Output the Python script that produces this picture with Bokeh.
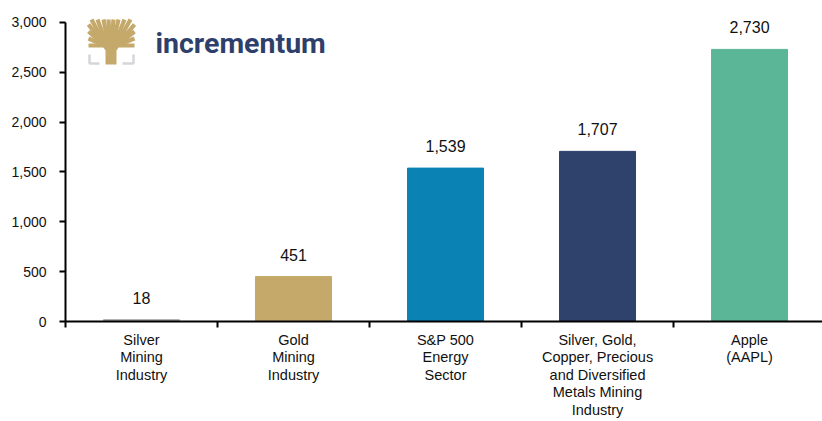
from bokeh.plotting import figure
from bokeh.layouts import column
from bokeh.models import (Range1d, FixedTicker, NumeralTickFormatter, ColumnDataSource, Label)
from bokeh.core.properties import value
from bokeh.embed import file_html
from bokeh.resources import INLINE

categories = ["Silver\nMining\nIndustry", "Gold\nMining\nIndustry", "S&P 500\nEnergy\nSector",
              "Silver, Gold,\nCopper, Precious\nand Diversified\nMetals Mining\nIndustry", "Apple\n(AAPL)"]
values = [18, 451, 1539, 1707, 2730]
colors = ["#a6a6a6", "#c4a96b", "#0b82b4", "#2f426b", "#5bb697"]
y_ticks = [0, 500, 1000, 1500, 2000, 2500, 3000]

FONT = "Liberation Sans"

xs = [i + 0.5 for i in range(len(categories))]
bounds = list(range(len(categories) + 1))

p = figure(width=822, height=330, output_backend="svg", toolbar_location=None,
           x_range=Range1d(0, 4.98), y_range=Range1d(0, 3050),
           min_border_left=65, min_border_right=0, min_border_top=17, min_border_bottom=9)
p.outline_line_color = None
p.grid.visible = False
p.background_fill_color = "white"
p.border_fill_color = "white"

src = ColumnDataSource(dict(x=xs, top=values, color=colors, lab=[f"{v:,}" for v in values]))
p.vbar(x="x", top="top", width=0.5, color="color", source=src)
p.text(x="x", y="top", text="lab", source=src, text_align="center", text_baseline="middle",
       y_offset=-22, text_font=value(FONT), text_font_size="16px", text_color="#111111")

# y axis
ya = p.yaxis[0]
ya.ticker = FixedTicker(ticks=y_ticks)
ya.bounds = (0, 3000)
ya.formatter = NumeralTickFormatter(format="0,0")
ya.axis_line_color = "black"
ya.axis_line_width = 2
ya.major_tick_line_color = "black"
ya.major_tick_line_width = 2
ya.major_tick_in = 0
ya.major_tick_out = 6
ya.minor_tick_line_color = None
ya.major_label_standoff = 13
ya.major_label_text_font = FONT
ya.major_label_text_font_size = "14px"
ya.major_label_text_color = "#111111"

# x axis: ticks at category boundaries, names drawn in the strip below
xa = p.xaxis[0]
xa.ticker = FixedTicker(ticks=xs, minor_ticks=bounds)
xa.major_label_overrides = {x: "" for x in xs}
xa.axis_line_color = "black"
xa.axis_line_width = 2
xa.major_tick_line_color = None
xa.major_tick_in = 0
xa.major_tick_out = 0
xa.minor_tick_line_color = "black"
xa.minor_tick_line_width = 2
xa.minor_tick_in = 0
xa.minor_tick_out = 6
xa.major_label_standoff = 0
xa.major_label_text_font_size = "1px"

# logo (decoration), pixel-based positions converted into data space
def dx(px):
    return (px - 65) / 152.0

def dy(py):
    return (321 - py) / 0.09967

gold = "#c4a96b"
grey = "#d6d6da"
p.patch([dx(105), dx(116), dx(116), dx(122), dx(99), dx(105)],
        [dy(64), dy(64), dy(50), dy(41), dy(41), dy(50)], color=gold, line_width=0)
ends = [(88, 45), (88, 38), (88, 31), (88, 24), (91, 19), (97, 19), (103, 19), (108, 19), (113, 19),
        (118, 19), (124, 19), (130, 19), (134, 24), (134, 31), (134, 38), (134, 45)]
bxs, bys = [], []
for ex, ey in ends:
    sx = 110 + (ex - 110) * 0.25
    mx = 110 + (ex - 110) * 0.6
    my = 45 + (ey - 45) * 0.45
    bxs.append([dx(sx), dx(mx), dx(ex)])
    bys.append([dy(45), dy(my), dy(ey)])
p.multi_line(bxs, bys, line_color=gold, line_width=4.2, line_cap="butt", line_join="round")
p.multi_line([[dx(89), dx(89), dx(99)], [dx(133), dx(133), dx(122)]],
             [[dy(54), dy(63), dy(63)], [dy(54), dy(63), dy(63)]],
             line_color=grey, line_width=2.5)

p.add_layout(Label(x=dx(155), y=dy(43), text="incrementum", text_font="Roboto",
                   text_font_style="bold", text_font_size="28.5px", text_color="#2e3f6b",
                   text_baseline="alphabetic"))

# strip with the category names
q = figure(width=822, height=91, output_backend="svg", toolbar_location=None,
           x_range=p.x_range, y_range=Range1d(0, 91),
           min_border_left=65, min_border_right=0, min_border_top=0, min_border_bottom=0)
q.axis.visible = False
q.grid.visible = False
q.outline_line_color = None
q.background_fill_color = "white"
q.border_fill_color = "white"
cat_src = ColumnDataSource(dict(x=xs, name=categories, y=[91] * len(xs)))
q.text(x="x", y="y", text="name", source=cat_src, y_offset=1, text_align="center",
       text_baseline="top", text_font=value(FONT), text_font_size="14.5px",
       text_line_height=1.1, text_color="#111111")

open("out.html", "w").write(file_html(column(p, q, spacing=0), INLINE))
